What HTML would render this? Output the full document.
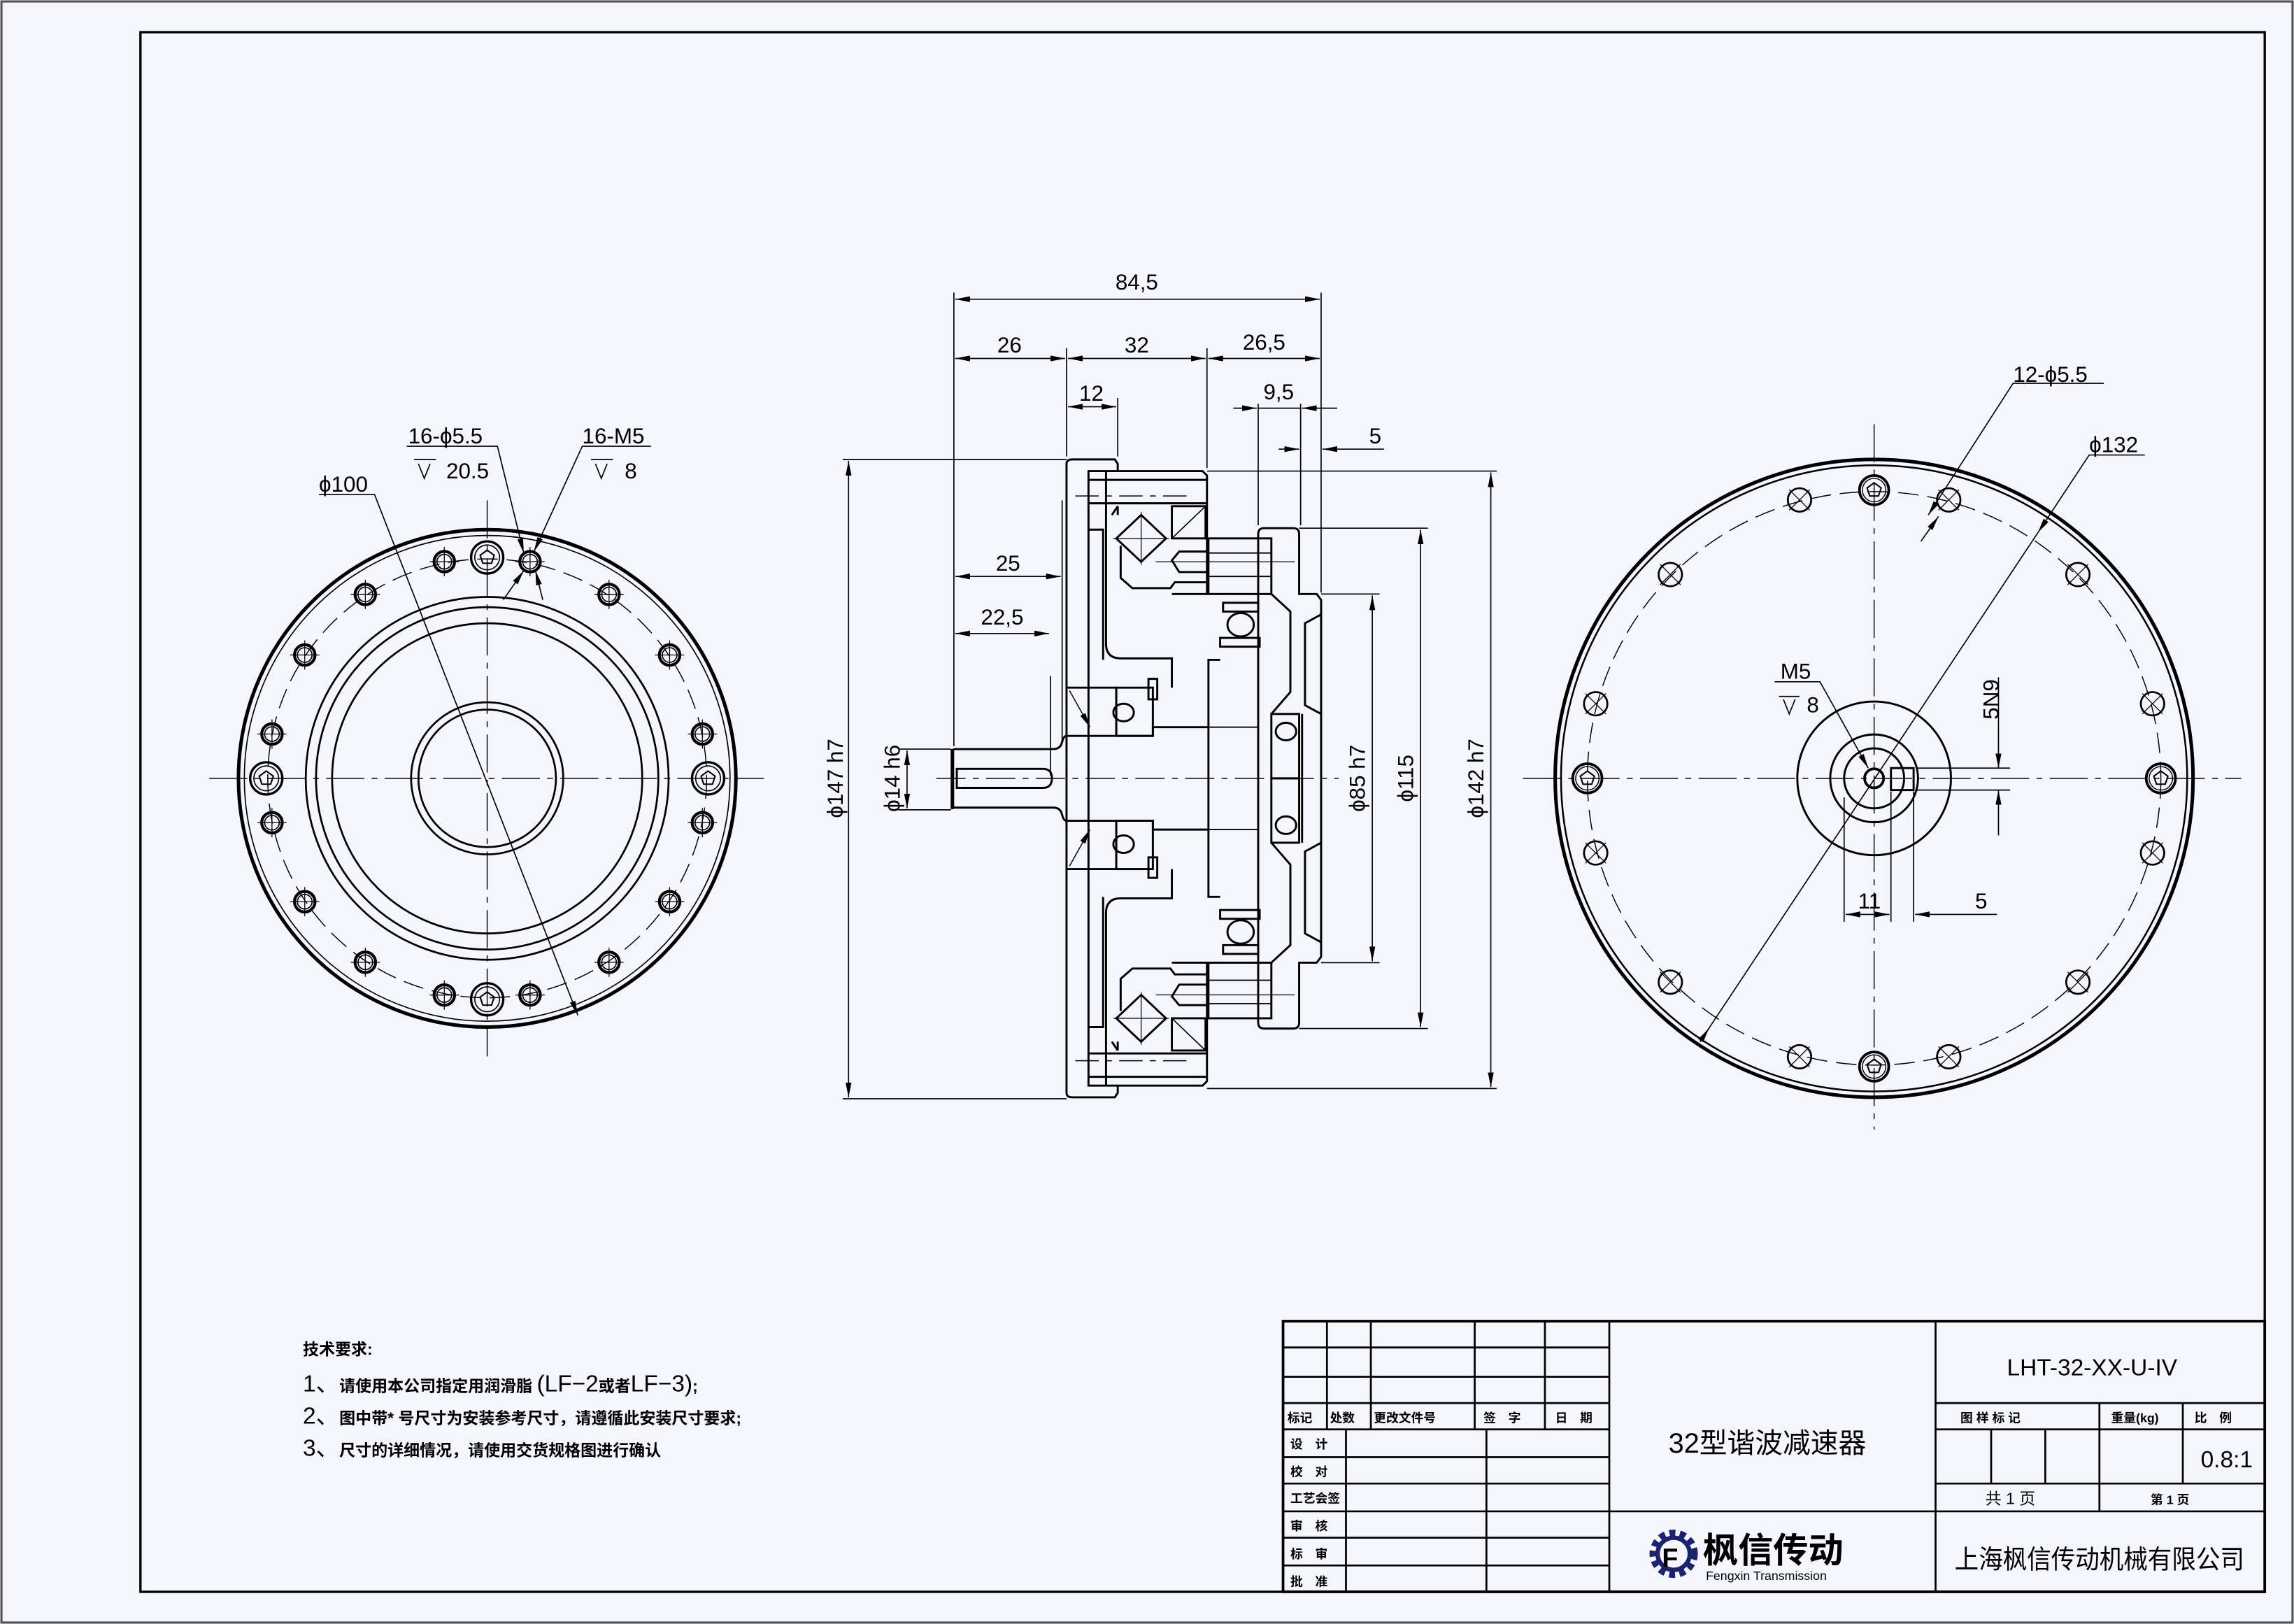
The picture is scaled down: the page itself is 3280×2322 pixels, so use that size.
<!DOCTYPE html>
<html><head><meta charset="utf-8"><style>
html,body{margin:0;padding:0;background:#f4f6fc}
svg{display:block}
text{font-family:"Liberation Sans","Noto Sans CJK SC",sans-serif;fill:#000}
</style></head><body>
<svg width="3280" height="2322" viewBox="0 0 1568 1110" preserveAspectRatio="none" xmlns="http://www.w3.org/2000/svg">
<defs>
<marker id="a" viewBox="0 0 10 4" refX="10" refY="2" markerWidth="10" markerHeight="4" markerUnits="userSpaceOnUse" orient="auto-start-reverse"><path d="M0,0 L10,2 L0,4 Z" fill="#000"/></marker>
<g id="hL"><circle r="7" fill="none" stroke="#000" stroke-width="2"/><circle r="5" fill="none" stroke="#000" stroke-width="0.8"/><line x1="-10" y1="0" x2="10" y2="0" stroke="#000" stroke-width="0.6"/><line x1="0" y1="-10" x2="0" y2="10" stroke="#000" stroke-width="0.6"/></g>
<g id="hB"><circle r="11" fill="none" stroke="#000" stroke-width="1.6"/><circle r="8.5" fill="none" stroke="#000" stroke-width="0.8"/><polygon points="0,-5 4.8,-1.5 3,4 -3,4 -4.8,-1.5" fill="none" stroke="#000" stroke-width="1"/></g>
<g id="hR"><circle r="8" fill="none" stroke="#000" stroke-width="1.3"/><line x1="-7" y1="-7" x2="7" y2="7" stroke="#000" stroke-width="0.6"/><line x1="7" y1="-7" x2="-7" y2="7" stroke="#000" stroke-width="0.6"/></g>
<g id="hRB"><circle r="10" fill="none" stroke="#000" stroke-width="1.8"/><circle r="8" fill="none" stroke="#000" stroke-width="0.7"/><polygon points="0,-5 4.8,-1.5 3,4 -3,4 -4.8,-1.5" fill="none" stroke="#000" stroke-width="1"/></g>
<g id="half" fill="none" stroke="#000" stroke-width="1.4">
 <path d="M729,532 V317 Q729,314 733,314 H762 L764,317 V322"/>
 <path d="M744,532 V322 H822 L825,325 V406 H801"/>
 <line x1="744" y1="328" x2="825" y2="328"/>
 <line x1="744" y1="344" x2="825" y2="344"/>
 <path d="M756,322 V440 Q756,450 766,450 H801 V470"/>
 <path d="M744,362 H754 V451"/>
 <path d="M760,352 L764,346 M764,346 V352"/>
 <polygon points="780,352 797,368 780,384 763,368"/>
 <line x1="780" y1="350" x2="780" y2="386" stroke-width="0.6"/>
 <line x1="761" y1="368" x2="799" y2="368" stroke-width="0.6"/>
 <rect x="801" y="346" width="23" height="22"/>
 <line x1="801" y1="368" x2="824" y2="346" stroke-width="0.8"/>
 <path d="M766,373 V395 L774,402 H800 L803,398 H826"/>
 <rect x="826" y="368" width="43" height="38"/>
 <line x1="826" y1="378" x2="869" y2="378" stroke-width="0.9"/>
 <line x1="826" y1="394" x2="869" y2="394" stroke-width="0.9"/>
 <path d="M826,377 H806 L801,383 L806,391 H826"/>
 <path d="M860,532 V365 Q860,361 864,361 H884 Q888,361 888,365 V406 H900 L903,410 V532"/>
 <path d="M869,406 L882,418 V473 L869,488"/>
 <path d="M903,420 L892,426 V482 L903,488"/>
 <rect x="869" y="488" width="19" height="44"/>
 <ellipse cx="879" cy="500" rx="7" ry="6"/>
 <line x1="890" y1="488" x2="890" y2="532"/>
 <path d="M826,532 V451 H834"/>
 <rect x="834" y="436" width="27" height="6"/>
 <ellipse cx="848" cy="427" rx="9" ry="8"/>
 <rect x="836" y="412" width="24" height="6"/>
 <line x1="826" y1="497" x2="860" y2="497" stroke-width="0.9"/>
 <path d="M729,470 H763 V503"/>
 <rect x="763" y="470" width="25" height="33"/>
 <ellipse cx="768" cy="487" rx="7" ry="6"/>
 <rect x="785" y="464" width="6" height="14"/>
 <path d="M729,503 H788 V497 H826"/>
 <line x1="731" y1="472" x2="745" y2="497" stroke-width="0.7" marker-end="url(#a)"/>
 <path d="M651,532 V514 Q651,512 653,512 H720 Q725,512 726,507 Q727,503 729,503"/>
 <path d="M654,532 V525.5 H713 Q719,525.5 719,532"/>
</g>
</defs>

<rect x="1" y="1" width="1566" height="1108" fill="none" stroke="#555" stroke-width="1.5"/>
<rect x="96" y="22" width="1452" height="1066" fill="none" stroke="#000" stroke-width="1.6"/>

<!-- LEFT VIEW -->
<g fill="none" stroke="#000">
 <circle cx="333" cy="532" r="170" stroke-width="2.4"/>
 <circle cx="333" cy="532" r="166" stroke-width="0.8"/>
 <circle cx="333" cy="532" r="150" stroke-width="0.7" stroke-dasharray="14,6"/>
 <circle cx="333" cy="532" r="124" stroke-width="1.3"/>
 <circle cx="333" cy="532" r="117" stroke-width="1.3"/>
 <circle cx="333" cy="532" r="106" stroke-width="1.3"/>
 <circle cx="333" cy="532" r="52" stroke-width="1.3"/>
 <circle cx="333" cy="532" r="47" stroke-width="1.3"/>
 <line x1="143" y1="532" x2="522" y2="532" stroke-width="0.7" stroke-dasharray="26,5,4,5"/>
 <line x1="333" y1="342" x2="333" y2="722" stroke-width="0.7" stroke-dasharray="26,5,4,5"/>
</g>
<use href="#hL" x="362.3" y="383.9"/><use href="#hL" x="303.7" y="383.9"/>
<use href="#hL" x="416.3" y="406.3"/><use href="#hL" x="249.7" y="406.3"/>
<use href="#hL" x="457.7" y="447.7"/><use href="#hL" x="208.3" y="447.7"/>
<use href="#hL" x="480.1" y="501.7"/><use href="#hL" x="185.9" y="501.7"/>
<use href="#hL" x="480.1" y="562.3"/><use href="#hL" x="185.9" y="562.3"/>
<use href="#hL" x="457.7" y="616.3"/><use href="#hL" x="208.3" y="616.3"/>
<use href="#hL" x="416.3" y="657.7"/><use href="#hL" x="249.7" y="657.7"/>
<use href="#hL" x="362.3" y="680.1"/><use href="#hL" x="303.7" y="680.1"/>
<use href="#hB" x="333" y="381"/><use href="#hB" x="333" y="683"/>
<use href="#hB" x="182" y="532"/><use href="#hB" x="484" y="532"/>
<g stroke="#000" stroke-width="0.8" fill="none">
 <polyline points="218,338 256,338 395,694" marker-end="url(#a)"/>
 <polyline points="278,305 340,305 358,378" marker-end="url(#a)"/>
 <polyline points="445,305 398,305 365,377" marker-end="url(#a)"/>
 <line x1="344" y1="410" x2="358" y2="390" marker-end="url(#a)"/>
 <line x1="371" y1="410" x2="366" y2="390" marker-end="url(#a)"/>
 <line x1="283" y1="314" x2="298" y2="314"/><polyline points="286,317 290,327 294,317"/>
 <line x1="404" y1="314" x2="419" y2="314"/><polyline points="407,317 411,327 415,317"/>
</g>
<text x="218" y="336" font-size="15">ϕ100</text>
<text x="279" y="303" font-size="15">16-ϕ5.5</text>
<text x="305" y="327" font-size="15">20.5</text>
<text x="398" y="303" font-size="15">16-M5</text>
<text x="427" y="327" font-size="15">8</text>

<!-- SIDE VIEW -->
<use href="#half"/>
<use href="#half" transform="matrix(1,0,0,-1,0,1064)"/>
<line x1="640" y1="532" x2="915" y2="532" stroke="#000" stroke-width="0.7" stroke-dasharray="20,5,4,5"/>
<line x1="735" y1="339" x2="815" y2="339" stroke="#000" stroke-width="0.7" stroke-dasharray="16,5,4,5"/>
<line x1="735" y1="725" x2="815" y2="725" stroke="#000" stroke-width="0.7" stroke-dasharray="16,5,4,5"/>
<line x1="790" y1="384" x2="885" y2="384" stroke="#000" stroke-width="0.6"/>
<line x1="790" y1="680" x2="885" y2="680" stroke="#000" stroke-width="0.6"/>
<line x1="651" y1="512" x2="651" y2="553" stroke="#000" stroke-width="2.4"/>

<g stroke="#000" stroke-width="0.8" fill="none">
 <line x1="652" y1="200" x2="652" y2="510"/>
 <line x1="903" y1="200" x2="903" y2="405"/>
 <line x1="729" y1="238" x2="729" y2="312"/>
 <line x1="825" y1="238" x2="825" y2="320"/>
 <line x1="764" y1="272" x2="764" y2="312"/>
 <line x1="860" y1="276" x2="860" y2="359"/>
 <line x1="889" y1="276" x2="889" y2="359"/>
 <line x1="653" y1="204.5" x2="902" y2="204.5" marker-start="url(#a)" marker-end="url(#a)"/>
 <line x1="653" y1="245" x2="728" y2="245" marker-start="url(#a)" marker-end="url(#a)"/>
 <line x1="730" y1="245" x2="824" y2="245" marker-start="url(#a)" marker-end="url(#a)"/>
 <line x1="826" y1="245" x2="902" y2="245" marker-start="url(#a)" marker-end="url(#a)"/>
 <line x1="730" y1="278" x2="763" y2="278" marker-start="url(#a)" marker-end="url(#a)"/>
 <line x1="843" y1="279" x2="859" y2="279" marker-end="url(#a)"/>
 <line x1="860" y1="279" x2="889" y2="279"/>
 <line x1="914" y1="279" x2="890" y2="279" marker-end="url(#a)"/>
 <line x1="874" y1="307" x2="888" y2="307" marker-end="url(#a)"/>
 <line x1="946" y1="307" x2="904" y2="307" marker-end="url(#a)"/>
 <line x1="726" y1="342" x2="726" y2="508"/>
 <line x1="718" y1="462" x2="718" y2="530"/>
 <line x1="653" y1="394" x2="725" y2="394" marker-start="url(#a)" marker-end="url(#a)"/>
 <line x1="653" y1="433" x2="717" y2="433" marker-start="url(#a)" marker-end="url(#a)"/>
 <line x1="576" y1="314" x2="729" y2="314"/>
 <line x1="576" y1="751" x2="729" y2="751"/>
 <line x1="580" y1="315" x2="580" y2="750" marker-start="url(#a)" marker-end="url(#a)"/>
 <line x1="614" y1="512" x2="650" y2="512"/>
 <line x1="614" y1="553.5" x2="650" y2="553.5"/>
 <line x1="620" y1="513" x2="620" y2="552.5" marker-start="url(#a)" marker-end="url(#a)"/>
 <line x1="903" y1="406" x2="943" y2="406"/>
 <line x1="903" y1="658" x2="943" y2="658"/>
 <line x1="938" y1="407" x2="938" y2="657" marker-start="url(#a)" marker-end="url(#a)"/>
 <line x1="888" y1="361" x2="976" y2="361"/>
 <line x1="888" y1="703" x2="976" y2="703"/>
 <line x1="971" y1="362" x2="971" y2="702" marker-start="url(#a)" marker-end="url(#a)"/>
 <line x1="825" y1="322" x2="1023" y2="322"/>
 <line x1="825" y1="744" x2="1023" y2="744"/>
 <line x1="1019" y1="323" x2="1019" y2="743" marker-start="url(#a)" marker-end="url(#a)"/>
</g>
<g font-size="15" text-anchor="middle">
 <text x="777" y="198">84,5</text>
 <text x="690" y="241">26</text>
 <text x="777" y="241">32</text>
 <text x="864" y="239">26,5</text>
 <text x="746" y="274">12</text>
 <text x="874" y="273">9,5</text>
 <text x="940" y="303">5</text>
 <text x="689" y="390">25</text>
 <text x="685" y="427">22,5</text>
 <text transform="translate(576,532) rotate(-90)">ϕ147 h7</text>
 <text transform="translate(615,532) rotate(-90)">ϕ14 h6</text>
 <text transform="translate(933,532) rotate(-90)">ϕ85 h7</text>
 <text transform="translate(966,532) rotate(-90)">ϕ115</text>
 <text transform="translate(1014,532) rotate(-90)">ϕ142 h7</text>
</g>

<!-- RIGHT VIEW -->
<g fill="none" stroke="#000">
 <circle cx="1281" cy="532" r="218" stroke-width="2.4"/>
 <circle cx="1281" cy="532" r="214" stroke-width="1.2"/>
 <circle cx="1281" cy="532" r="196" stroke-width="0.7" stroke-dasharray="14,6"/>
 <circle cx="1281" cy="532" r="52.5" stroke-width="1.4"/>
 <circle cx="1281" cy="532" r="30" stroke-width="1.4"/>
 <circle cx="1281" cy="532" r="20.5" stroke-width="1.4"/>
 <circle cx="1281" cy="532" r="6.5" stroke-width="1.8"/>
 <rect x="1292.5" y="525" width="15.5" height="15" stroke-width="1.4"/>
 <line x1="1041" y1="532" x2="1532" y2="532" stroke-width="0.7" stroke-dasharray="26,5,4,5"/>
 <line x1="1281" y1="290" x2="1281" y2="772" stroke-width="0.7" stroke-dasharray="26,5,4,5"/>
</g>
<use href="#hR" x="1332" y="341.7"/><use href="#hR" x="1230" y="341.7"/>
<use href="#hR" x="1420.3" y="392.7"/><use href="#hR" x="1141.7" y="392.7"/>
<use href="#hR" x="1471.3" y="481"/><use href="#hR" x="1090.7" y="481"/>
<use href="#hR" x="1471.3" y="583"/><use href="#hR" x="1090.7" y="583"/>
<use href="#hR" x="1420.3" y="671.3"/><use href="#hR" x="1141.7" y="671.3"/>
<use href="#hR" x="1332" y="722.3"/><use href="#hR" x="1230" y="722.3"/>
<use href="#hRB" x="1281" y="335"/><use href="#hRB" x="1281" y="729"/>
<use href="#hRB" x="1085" y="532"/><use href="#hRB" x="1477" y="532"/>
<g stroke="#000" stroke-width="0.8" fill="none">
 <polyline points="1438,262 1376,262 1318,352" marker-end="url(#a)"/>
 <line x1="1313" y1="370" x2="1325" y2="353" marker-end="url(#a)"/>
 <polyline points="1466,311 1428,311 1393,364" marker-end="url(#a)"/>
 <line x1="1393" y1="364" x2="1162" y2="712"/>
 <line x1="1162" y1="712" x2="1168" y2="703" marker-end="url(#a)"/>
 <polyline points="1213,466 1244,466 1277,525" marker-end="url(#a)"/>
 <line x1="1216" y1="476" x2="1230" y2="476"/><polyline points="1219,478 1223,488 1227,478"/>
 <line x1="1310" y1="525" x2="1374" y2="525"/>
 <line x1="1310" y1="540" x2="1374" y2="540"/>
 <line x1="1366" y1="463" x2="1366" y2="525" marker-end="url(#a)"/>
 <line x1="1366" y1="571" x2="1366" y2="540" marker-end="url(#a)"/>
 <line x1="1260.5" y1="545" x2="1260.5" y2="630"/>
 <line x1="1292.5" y1="541" x2="1292.5" y2="630"/>
 <line x1="1308" y1="541" x2="1308" y2="630"/>
 <line x1="1261.5" y1="625" x2="1291.5" y2="625" marker-start="url(#a)" marker-end="url(#a)"/>
 <line x1="1365" y1="625" x2="1309" y2="625" marker-end="url(#a)"/>
</g>
<g font-size="15">
 <text x="1376" y="261">12-ϕ5.5</text>
 <text x="1428" y="309">ϕ132</text>
 <text x="1217" y="464">M5</text>
 <text x="1235" y="487">8</text>
 <text x="1270" y="621">11</text>
 <text x="1350" y="621">5</text>
 <text transform="translate(1366,478) rotate(-90)" text-anchor="middle">5N9</text>
</g>

<!-- TECH NOTES -->
<g font-weight="bold">
 <text x="207" y="926" font-size="11">技术要求:</text>
 <text x="207" y="951" font-size="11"><tspan font-size="16" font-weight="normal">1、</tspan>请使用本公司指定用润滑脂 <tspan font-size="16" font-weight="normal">(LF−2</tspan>或者<tspan font-size="16" font-weight="normal">LF−3)</tspan>;</text>
 <text x="207" y="973" font-size="11"><tspan font-size="16" font-weight="normal">2、</tspan>图中带* 号尺寸为安装参考尺寸，请遵循此安装尺寸要求;</text>
 <text x="207" y="995" font-size="11"><tspan font-size="16" font-weight="normal">3、</tspan>尺寸的详细情况，请使用交货规格图进行确认</text>
</g>

<!-- TITLE BLOCK -->
<g stroke="#000" fill="none">
 <rect x="877" y="903" width="671" height="185" stroke-width="1.8"/>
 <g stroke-width="1.3">
  <line x1="877" y1="921" x2="1100" y2="921"/>
  <line x1="877" y1="941" x2="1100" y2="941"/>
  <line x1="877" y1="959" x2="1100" y2="959"/>
  <line x1="877" y1="977" x2="1100" y2="977"/>
  <line x1="877" y1="996" x2="1100" y2="996"/>
  <line x1="877" y1="1014" x2="1100" y2="1014"/>
  <line x1="877" y1="1033" x2="1548" y2="1033"/>
  <line x1="877" y1="1051" x2="1100" y2="1051"/>
  <line x1="877" y1="1070" x2="1100" y2="1070"/>
  <line x1="907" y1="903" x2="907" y2="977"/>
  <line x1="937" y1="903" x2="937" y2="977"/>
  <line x1="1008" y1="903" x2="1008" y2="977"/>
  <line x1="1056" y1="903" x2="1056" y2="977"/>
  <line x1="920" y1="977" x2="920" y2="1088"/>
  <line x1="1016" y1="977" x2="1016" y2="1088"/>
  <line x1="1100" y1="903" x2="1100" y2="1088"/>
  <line x1="1323" y1="903" x2="1323" y2="1088"/>
  <line x1="1323" y1="959" x2="1548" y2="959"/>
  <line x1="1323" y1="977" x2="1548" y2="977"/>
  <line x1="1323" y1="1014" x2="1548" y2="1014"/>
  <line x1="1435" y1="959" x2="1435" y2="1033"/>
  <line x1="1492" y1="959" x2="1492" y2="1014"/>
  <line x1="1361" y1="977" x2="1361" y2="1014"/>
  <line x1="1398" y1="977" x2="1398" y2="1014"/>
 </g>
</g>
<g font-size="8.5" font-weight="bold">
 <text x="880" y="972">标记</text><text x="909" y="972">处数</text><text x="939" y="972">更改文件号</text>
 <text x="1014" y="972">签　字</text><text x="1063" y="972">日　期</text>
 <text x="882" y="990">设　计</text><text x="882" y="1009">校　对</text><text x="882" y="1027">工艺会签</text>
 <text x="882" y="1046">审　核</text><text x="882" y="1065">标　审</text><text x="882" y="1084">批　准</text>
 <text x="1340" y="972">图 样 标 记</text><text x="1443" y="972">重量(kg)</text><text x="1500" y="972">比　例</text>
 <text x="1470" y="1028">第 1 页</text>
</g>
<text x="1357" y="1028" font-size="11">共 1 页</text>
<text x="1208" y="993" font-size="19" text-anchor="middle">32型谐波减速器</text>
<text x="1430" y="940" font-size="16" text-anchor="middle">LHT-32-XX-U-IV</text>
<text x="1522" y="1003" font-size="16" text-anchor="middle">0.8:1</text>
<text x="1336" y="1072" font-size="18" textLength="198" lengthAdjust="spacingAndGlyphs" fill="#222">上海枫信传动机械有限公司</text>
<!-- logo -->
<g>
 <circle cx="1144" cy="1062" r="14" fill="none" stroke="#1b2270" stroke-width="5" stroke-dasharray="4,3"/>
 <circle cx="1144" cy="1062" r="11" fill="none" stroke="#1b2270" stroke-width="3"/>
 <text x="1136" y="1071" font-size="18" font-weight="bold" fill="#d01818">F</text>
 <text x="1164" y="1068" font-size="24" font-weight="bold" fill="#1b2270">枫信传动</text>
 <text x="1166" y="1080" font-size="8.5" fill="#1b2270">Fengxin Transmission</text>
</g>
</svg>
</body></html>
